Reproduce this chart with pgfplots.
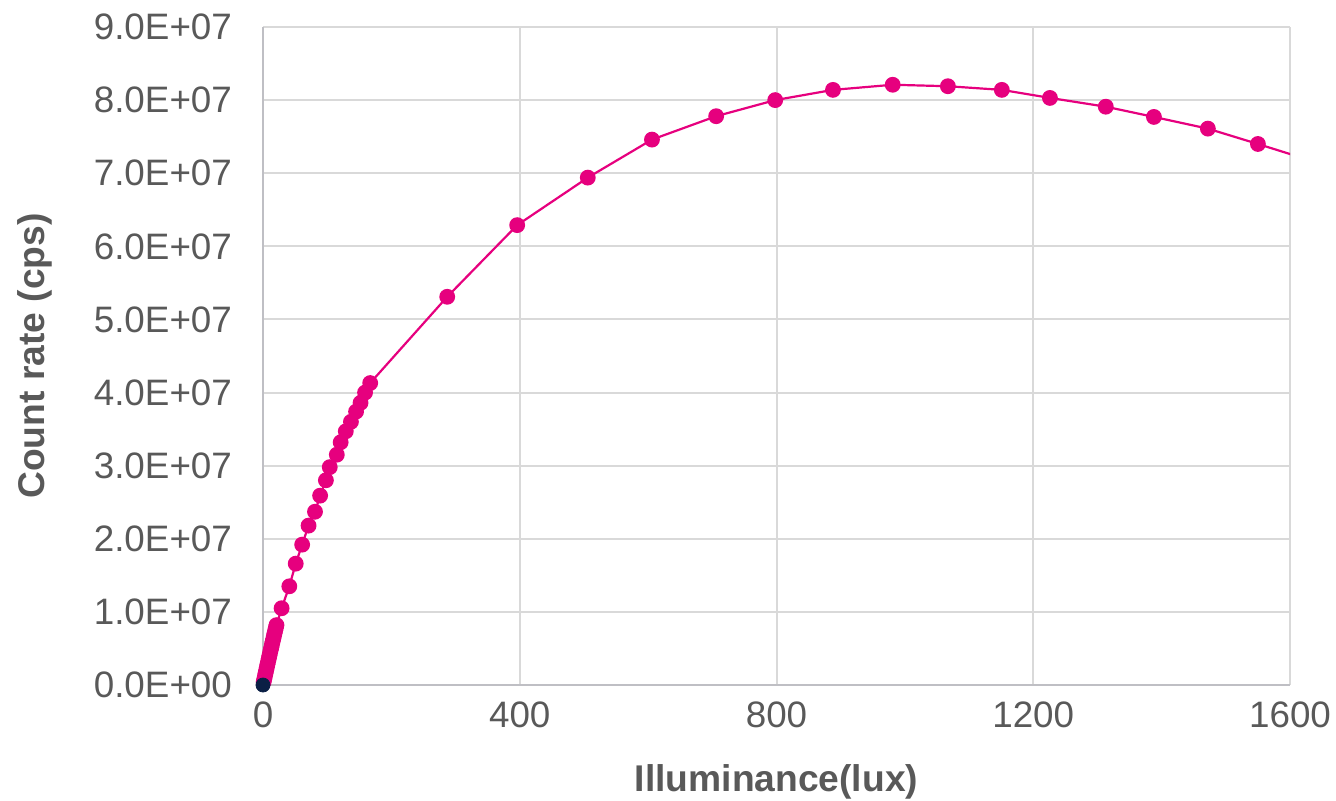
\documentclass[border=0pt]{standalone}
\usepackage{pgfplots}
\pgfplotsset{compat=1.18}
\usepackage{fontspec}
\setmainfont{Liberation Sans}
\definecolor{curve}{HTML}{E6007E}
\definecolor{origin}{HTML}{0B1F45}
\definecolor{gridc}{HTML}{D9D9D9}
\definecolor{axisc}{HTML}{BFBFC4}
\definecolor{txt}{HTML}{595959}

% count rate versus illuminance
\pgfplotstableread{
lux   cps
1     0.41e6
2     0.82e6
3     1.22e6
4     1.63e6
5     2.03e6
6     2.43e6
7     2.83e6
8     3.22e6
9     3.62e6
10    4.01e6
11    4.40e6
12    4.79e6
13    5.17e6
14    5.56e6
15    5.94e6
16    6.32e6
17    6.70e6
18    7.07e6
19    7.45e6
20    7.82e6
21    8.19e6
29    1.05e7
41    1.35e7
51    1.66e7
61    1.92e7
71    2.18e7
81    2.37e7
89    2.59e7
98    2.80e7
104   2.98e7
115   3.15e7
121   3.32e7
129   3.47e7
137   3.60e7
145   3.74e7
152   3.86e7
159   4.00e7
167   4.13e7
287   5.31e7
396   6.29e7
506   6.94e7
606   7.46e7
706   7.78e7
798   8.00e7
888   8.14e7
981   8.21e7
1067  8.19e7
1151  8.14e7
1226  8.03e7
1313  7.91e7
1388  7.77e7
1472  7.61e7
1550  7.40e7
1630  7.18e7
}\measured

\begin{document}
\begin{tikzpicture}
\path[use as bounding box] (-131.5pt,-57.5pt) rectangle (536.5pt,342.5pt);
\begin{axis}[
  at={(0,0)}, anchor=south west,
  scale only axis,
  width=513.5pt, height=329pt,
  xmin=0, xmax=1600, ymin=0, ymax=9e7,
  clip=true,
  scaled y ticks=false, scaled x ticks=false,
  axis x line=bottom, axis y line=left,
  axis line style={draw=axisc, line width=1pt, -},
  xtick={0,400,800,1200,1600},
  xticklabels={0,400,800,1200,1600},
  ytick={0,1e7,2e7,3e7,4e7,5e7,6e7,7e7,8e7,9e7},
  yticklabels={0.0E+00,1.0E+07,2.0E+07,3.0E+07,4.0E+07,5.0E+07,6.0E+07,7.0E+07,8.0E+07,9.0E+07},
  major tick length=0pt,
  grid=major,
  grid style={draw=gridc, line width=1pt},
  tick label style={font=\fontsize{18.4}{22}\selectfont, text=txt},
  yticklabel style={xshift=-12pt},
  xticklabel style={yshift=-5pt},
  label style={font=\fontsize{18.6}{22}\selectfont\bfseries, text=txt},
  xlabel={Illuminance(lux)},
  ylabel={Count rate (cps)},
  xlabel style={at={(axis description cs:0.5,0)}, anchor=north, yshift=-36pt},
  ylabel style={at={(axis description cs:0,0.5)}, anchor=south, yshift=102pt},
]
\addplot[curve, line width=1.1pt, mark=*, mark size=3.4pt, mark options={fill=curve, draw=curve}]
  table[x=lux, y=cps] {\measured};
\addplot[only marks, mark=*, mark size=3.5pt, mark options={fill=origin, draw=origin}]
  coordinates {(0,0)};
\end{axis}
\end{tikzpicture}
\end{document}
